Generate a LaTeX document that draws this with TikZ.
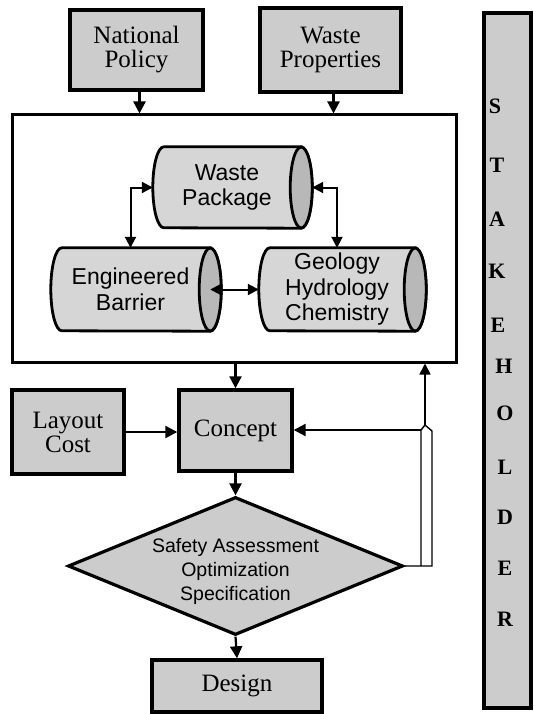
\documentclass[tikz,border=0pt]{standalone}
\usepackage{fontspec}
\setmainfont{Liberation Serif}
\setsansfont{Liberation Sans}
\usetikzlibrary{arrows.meta,shapes.geometric,calc}
\pgfdeclarelayer{background}
\pgfsetlayers{background,main}
\definecolor{boxgray}{gray}{0.80}
\definecolor{cylbody}{gray}{0.84}
\definecolor{cylend}{gray}{0.72}
\tikzset{
  srcbox/.style={draw, line width=3.4pt, fill=boxgray, align=center, inner sep=0pt,
    font=\fontsize{25}{24}\selectfont},
  cylnode/.style={inner sep=0pt, align=center, font=\sffamily\fontsize{23}{25.5}\selectfont},
  cylline/.style={line width=2.8pt},
  arr/.style={line width=2.2pt, -{Triangle[length=12pt,width=12pt]}},
  darr/.style={line width=2pt, {Triangle[length=11pt,width=11pt]}-{Triangle[length=11pt,width=11pt]}},
  thinline/.style={line width=1.4pt},
  stk/.style={font=\bfseries\fontsize{22}{22}\selectfont, inner sep=0pt}
}
\newcommand\drawcyl[2]{%
  \filldraw[cylline, fill=cylbody] ([xshift=11pt]#1.north east) -- (#1.north west)
    arc[start angle=90, end angle=270, x radius=11pt, y radius=#2pt]
    -- ([xshift=11pt]#1.south east)
    arc[start angle=-90, end angle=90, x radius=11pt, y radius=#2pt] -- cycle;
  \filldraw[cylline, fill=cylend] ([xshift=11pt]#1.east) ellipse[x radius=11pt, y radius=#2pt];
}
\begin{document}
\begin{tikzpicture}[x=1pt,y=-1pt]
\useasboundingbox (0,0) rectangle (534,714);

% top input boxes
\node[srcbox, minimum width=133pt, minimum height=80pt] (np) at (136.5,50) {National\\Policy};
\node[srcbox, minimum width=141pt, minimum height=84pt] (wpr) at (330.5,50) {Waste\\Properties};

% system box
\node[draw, line width=3pt, minimum width=444pt, minimum height=247pt, inner sep=0pt] (sys) at (234,238.5) {};

% cylinders (node = body between left-arc centre and cap's left edge)
\node[cylnode, minimum width=126pt, minimum height=81pt] (wp) at (227,187.5) {Waste\\Package};
\node[cylnode, minimum width=137pt, minimum height=83pt] (eb) at (130.5,289.5) {Engineered\\Barrier};
\node[cylnode, minimum width=134pt, minimum height=83pt] (geo) at (337,289.5) {Geology\\Hydrology\\Chemistry};
\begin{pgfonlayer}{background}
  \fill[white] (0,0) rectangle (534,714);
  \drawcyl{wp}{40.5}
  \drawcyl{eb}{41.5}
  \drawcyl{geo}{41.5}
\end{pgfonlayer}

% lower boxes
\node[srcbox, minimum width=112pt, minimum height=84pt] (layout) at (68,432) {Layout\\Cost};
\node[srcbox, minimum width=113pt, minimum height=81pt] (concept) at (235.5,430.5) {Concept};
\node[diamond, draw, line width=3.2pt, fill=boxgray, inner sep=0pt, minimum width=335pt, minimum height=138pt, shape aspect=2.43] (dia) at (235.5,566)
  {\raisebox{-11pt}[0pt][0pt]{\makebox[0pt]{\smash{\sffamily\fontsize{19.5}{24}\selectfont\begin{tabular}{@{}c@{}}Safety Assessment\\Optimization\\Specification\end{tabular}}}}};
\node[srcbox, minimum width=170pt, minimum height=52pt] (design) at (237,686) {Design};

% stakeholder column
\node[draw, line width=3.4pt, fill=boxgray, minimum width=47pt, minimum height=695pt, inner sep=0pt] (stake) at (507.5,360.5) {};
\foreach \l/\y/\x [count=\i] in {S/106/495,T/165/497,A/219/497,K/271/497,E/325/498,H/366/504,O/413/505,L/467/505,D/517/505,E/568/505,R/619/505}
  \node[stk] (st\i) at (\x,\y) {\l};

% connectors
\draw[arr] ([xshift=3pt]np.south) -- ([xshift=3pt]np.south |- sys.north);
\draw[arr] ([xshift=3pt]wpr.south) -- ([xshift=3pt]wpr.south |- sys.north);
\draw[darr] ([xshift=-11pt]wp.west) -| (eb.north);
\draw[darr] ([xshift=22pt]wp.east) -| (geo.north);
\draw[darr] ([xshift=11pt]eb.east) -- ([xshift=-11pt]geo.west);
\draw[arr] (sys.south -| concept.north) -- (concept.north);
\draw[arr] (layout.east) -- (layout.east -| concept.west);
\draw[arr] (concept.south) -- (dia.north);
\draw[arr] (dia.south) -- (design.north);

% feedback
\coordinate (fb) at (425,425);
\coordinate (pr) at (432,431);
\coordinate (pl) at (421,430);
\draw[thinline] (dia.east) -| (pr) -- (fb) -- (pl) -- (pl |- dia.east);
\draw[line width=1.6pt, -{Triangle[length=11pt,width=11pt]}] (fb) -- (fb |- sys.south);
\draw[arr] (pl) -- ([xshift=-4pt]pl) -- (pl -| concept.east);
\end{tikzpicture}
\end{document}
